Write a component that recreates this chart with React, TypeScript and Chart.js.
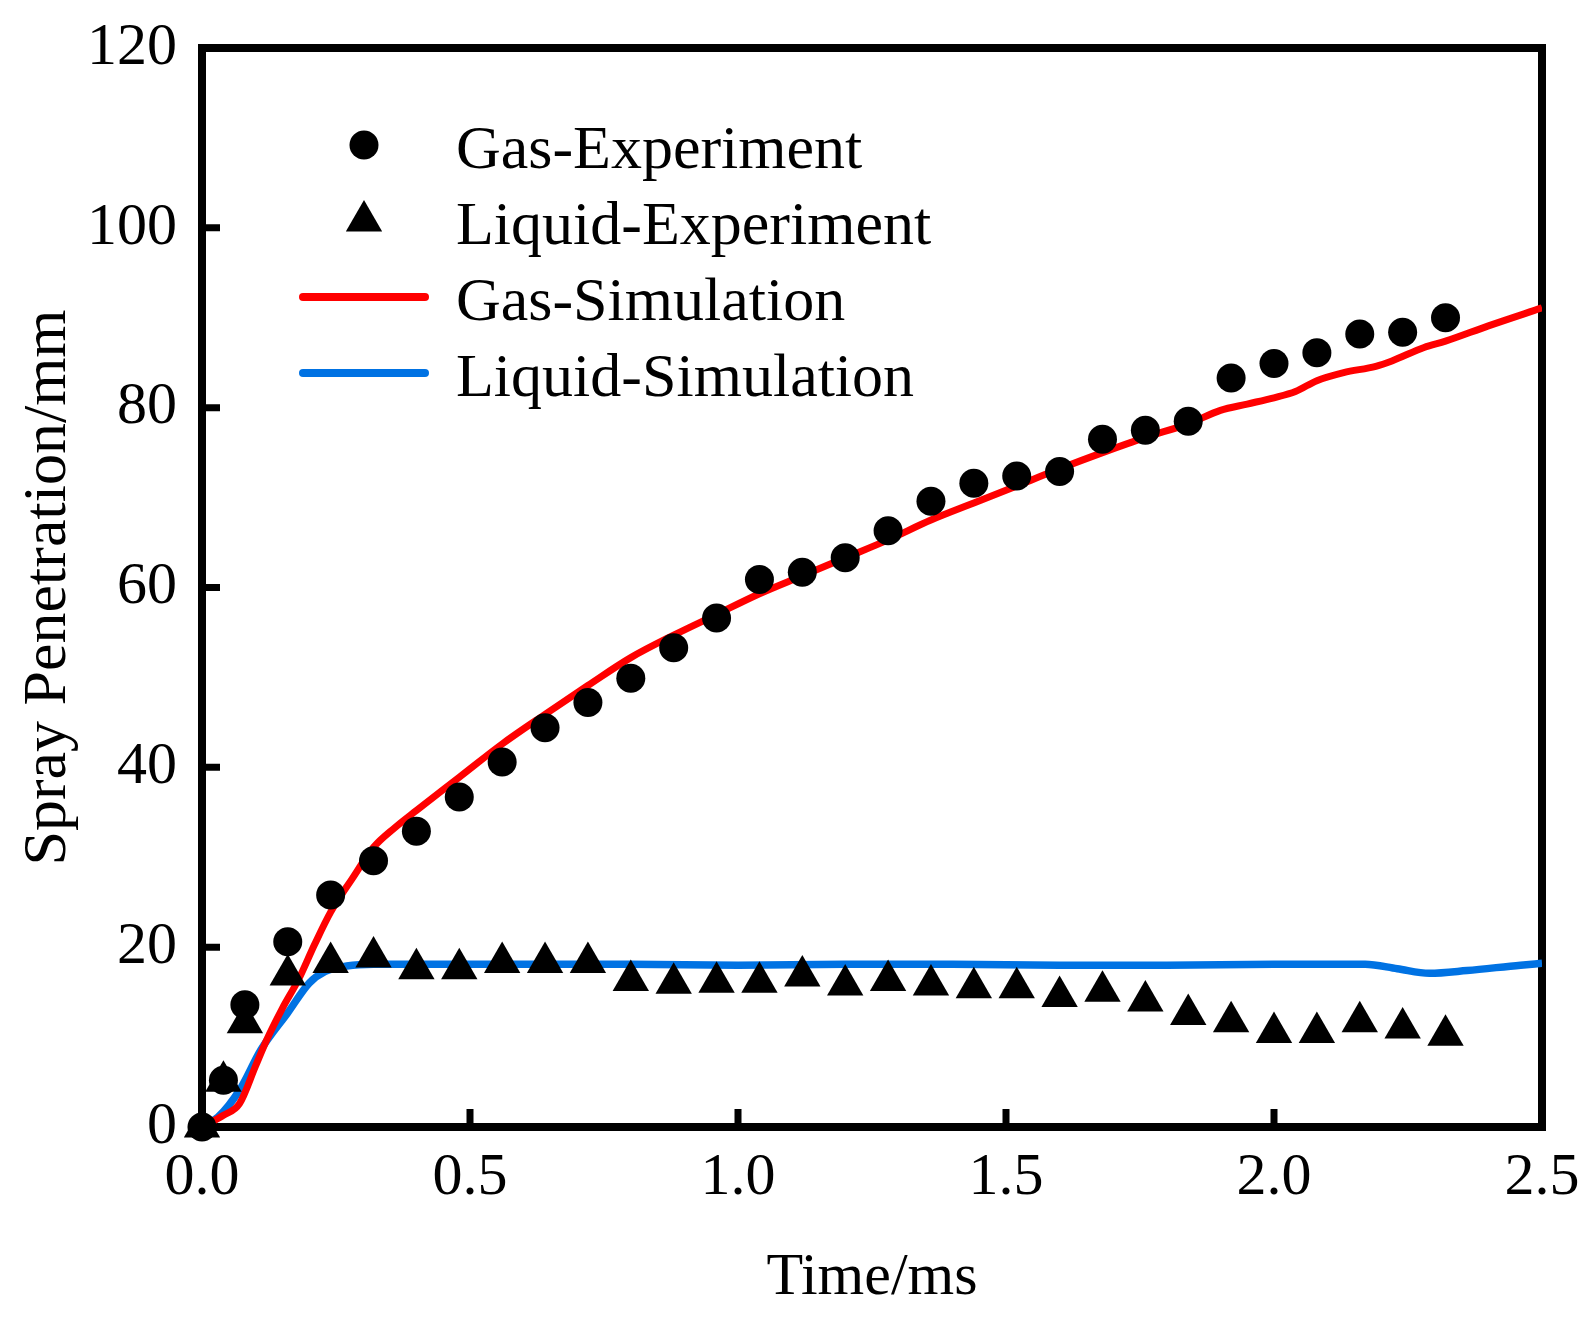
import { useEffect, useRef } from "react"
import { Chart, registerables } from "chart.js"

Chart.register(...registerables)

const FONT = '"Liberation Serif", "Times New Roman", serif'

// experiment sample times (ms)
const expTime = [
  0, 0.04, 0.08, 0.16, 0.24, 0.32, 0.4, 0.48, 0.56, 0.64, 0.72, 0.8, 0.88, 0.96, 1.04, 1.12,
  1.2, 1.28, 1.36, 1.44, 1.52, 1.6, 1.68, 1.76, 1.84, 1.92, 2.0, 2.08, 2.16, 2.24, 2.32,
]
const gasExp = [
  0, 5.2, 13.6, 20.6, 25.8, 29.6, 32.9, 36.7, 40.6, 44.4, 47.2, 49.9, 53.3, 56.6, 60.9, 61.7,
  63.3, 66.3, 69.6, 71.6, 72.4, 72.9, 76.5, 77.5, 78.5, 83.3, 84.9, 86.1, 88.2, 88.4, 90.0,
]
const liquidExp = [
  0, 5.1, 11.6, 16.9, 18.3, 18.9, 17.6, 17.6, 18.3, 18.3, 18.3, 16.3, 16.0, 16.1, 16.1, 16.8,
  15.8, 16.3, 15.8, 15.5, 15.5, 14.5, 15.1, 14.0, 12.5, 11.7, 10.5, 10.5, 11.7, 11.0, 10.2,
]

// simulation curves
const gasSimTime = [
  0, 0.04, 0.07, 0.1, 0.12, 0.15, 0.18, 0.21, 0.24, 0.28, 0.32, 0.36, 0.4, 0.48, 0.56, 0.64,
  0.72, 0.8, 0.88, 0.96, 1.04, 1.12, 1.2, 1.28, 1.36, 1.44, 1.52, 1.6, 1.68, 1.76, 1.84, 1.9,
  1.95, 2.0, 2.04, 2.08, 2.13, 2.19, 2.22, 2.28, 2.32, 2.4, 2.5,
]
const gasSim = [
  0, 1.3, 2.6, 6.8, 9.6, 13.2, 16.4, 20.3, 23.9, 27.6, 31.1, 33.3, 35.2, 38.9, 42.6, 45.9,
  49.1, 52.2, 54.7, 57.0, 59.3, 61.3, 63.3, 65.3, 67.5, 69.4, 71.3, 73.2, 75.0, 76.7, 78.2, 79.7,
  80.4, 81.1, 81.8, 83.0, 83.9, 84.6, 85.2, 86.7, 87.4, 89.1, 91.1,
]
const liquidSimTime = [
  0, 0.03, 0.07, 0.11, 0.16, 0.2, 0.23, 0.27, 0.32, 0.5, 0.8, 1.0, 1.2, 1.4, 1.6, 1.8, 2.0,
  2.17, 2.23, 2.29, 2.36, 2.46, 2.5,
]
const liquidSim = [
  0, 1.1, 4.1, 8.6, 12.7, 16.0, 17.3, 17.9, 18.1, 18.1, 18.1, 18.0, 18.1, 18.1, 18.0, 18.0, 18.1,
  18.1, 17.6, 17.1, 17.4, 18.0, 18.2,
]

const seriesNames = ["Gas-Experiment", "Liquid-Experiment", "Gas-Simulation", "Liquid-Simulation"]

const yTicks = [0, 20, 40, 60, 80, 100, 120]

const toPoints = (xs: number[], ys: number[]) => xs.map((x, i) => ({ x, y: ys[i] }))

// box frame + inward tick marks
const framePlugin = {
  id: "frame",
  beforeDatasetsDraw(chart: any) {
    const { ctx, chartArea, scales } = chart
    const { left, right, top, bottom } = chartArea
    ctx.save()
    ctx.strokeStyle = "#000"
    ctx.lineWidth = 8
    ctx.lineJoin = "miter"
    ctx.strokeRect(left, top, right - left, bottom - top)
    ctx.lineWidth = 7
    ctx.beginPath()
    scales.x.ticks.forEach((t: any) => {
      const px = scales.x.getPixelForValue(t.value)
      if (px <= left + 1 || px >= right - 1) return
      ctx.moveTo(px, bottom)
      ctx.lineTo(px, bottom - 18)
    })
    scales.y.ticks.forEach((t: any) => {
      const py = scales.y.getPixelForValue(t.value)
      if (py <= top + 1 || py >= bottom - 1) return
      ctx.moveTo(left, py)
      ctx.lineTo(left + 18, py)
    })
    ctx.stroke()
    ctx.restore()
  },
}

// legend inside the plot, markers left of the names
const legendPlugin = {
  id: "innerLegend",
  afterDraw(chart: any) {
    const { ctx, chartArea } = chart
    const mx = chartArea.left + 162
    const tx = chartArea.left + 254
    chart.data.datasets.forEach((ds: any, i: number) => {
      const y = chartArea.top + 97 + i * 76
      ctx.save()
      if (ds.showLine) {
        ctx.strokeStyle = ds.borderColor
        ctx.lineWidth = 8
        ctx.lineCap = "round"
        ctx.beginPath()
        ctx.moveTo(mx - 61, y)
        ctx.lineTo(mx + 61, y)
        ctx.stroke()
      } else if (ds.pointStyle === "triangle") {
        const r = ds.pointRadius
        ctx.fillStyle = ds.pointBackgroundColor
        ctx.beginPath()
        ctx.moveTo(mx, y - r)
        ctx.lineTo(mx + r * Math.sin((2 * Math.PI) / 3), y + r / 2)
        ctx.lineTo(mx - r * Math.sin((2 * Math.PI) / 3), y + r / 2)
        ctx.closePath()
        ctx.fill()
      } else {
        ctx.fillStyle = ds.pointBackgroundColor
        ctx.beginPath()
        ctx.arc(mx, y, ds.pointRadius, 0, Math.PI * 2)
        ctx.fill()
      }
      ctx.fillStyle = "#000"
      ctx.font = `62px ${FONT}`
      ctx.textAlign = "left"
      ctx.textBaseline = "alphabetic"
      ctx.fillText(ds.label, tx, y + 23)
      ctx.restore()
    })
  },
}

export default function App() {
  const chartRef = useRef<HTMLCanvasElement>(null)
  const chartInstance = useRef<Chart | null>(null)

  useEffect(() => {
    if (!chartRef.current) return
    if (chartInstance.current) chartInstance.current.destroy()

    const ctx = chartRef.current.getContext("2d")
    if (!ctx) return

    chartInstance.current = new Chart(ctx, {
      type: "scatter",
      data: {
        datasets: [
          {
            label: seriesNames[0],
            data: toPoints(expTime, gasExp),
            pointStyle: "circle",
            pointRadius: 14.5,
            pointBackgroundColor: "#000",
            pointBorderWidth: 0,
            showLine: false,
            clip: false,
          },
          {
            label: seriesNames[1],
            data: toPoints(expTime, liquidExp),
            pointStyle: "triangle",
            pointRadius: 21,
            pointBackgroundColor: "#000",
            pointBorderWidth: 0,
            showLine: false,
            clip: false,
          },
          {
            label: seriesNames[2],
            data: toPoints(gasSimTime, gasSim),
            showLine: true,
            borderColor: "#FF0000",
            borderWidth: 7,
            pointRadius: 0,
            cubicInterpolationMode: "monotone",
            fill: false,
          },
          {
            label: seriesNames[3],
            data: toPoints(liquidSimTime, liquidSim),
            showLine: true,
            borderColor: "#0072E3",
            borderWidth: 7.5,
            pointRadius: 0,
            cubicInterpolationMode: "monotone",
            fill: false,
          },
        ] as any,
      },
      plugins: [framePlugin, legendPlugin],
      options: {
        animation: false,
        responsive: true,
        maintainAspectRatio: false,
        events: [],
        layout: { padding: { top: 48, right: 51, left: 0, bottom: 0 } },
        plugins: {
          legend: { display: false },
          tooltip: { enabled: false },
        },
        scales: {
          x: {
            type: "linear",
            min: 0,
            max: 2.5,
            grid: { display: false },
            border: { display: false },
            afterFit: (scale: any) => {
              scale.height = 197
              scale.paddingLeft = 0
              scale.paddingRight = 0
            },
            ticks: {
              stepSize: 0.5,
              autoSkip: false,
              maxRotation: 0,
              padding: 7,
              color: "#000",
              font: { family: FONT, size: 60, lineHeight: 1.2 },
              callback: (v: any) => Number(v).toFixed(1),
            },
            title: {
              display: true,
              text: "Time/ms",
              color: "#000",
              font: { family: FONT, size: 60, lineHeight: 1.2 },
              padding: { top: 0, bottom: 10 },
            },
          },
          y: {
            type: "linear",
            min: yTicks[0],
            max: yTicks[yTicks.length - 1],
            grid: { display: false },
            border: { display: false },
            afterFit: (scale: any) => {
              scale.width = 202
              scale.paddingTop = 0
              scale.paddingBottom = 0
            },
            ticks: {
              stepSize: 20,
              autoSkip: false,
              padding: 17,
              color: "#000",
              font: { family: FONT, size: 60, lineHeight: 1.2 },
            },
            title: {
              display: true,
              text: "Spray Penetration/mm",
              color: "#000",
              font: { family: FONT, size: 62, lineHeight: 1.2 },
              padding: { top: 12, bottom: 0 },
            },
          },
        },
      },
    })

    return () => {
      if (chartInstance.current) {
        chartInstance.current.destroy()
        chartInstance.current = null
      }
    }
  }, [])

  return (
    <div style={{ position: "absolute", left: 0, top: 0, width: 1593, height: 1324, background: "#fff" }}>
      <canvas ref={chartRef} />
    </div>
  )
}
